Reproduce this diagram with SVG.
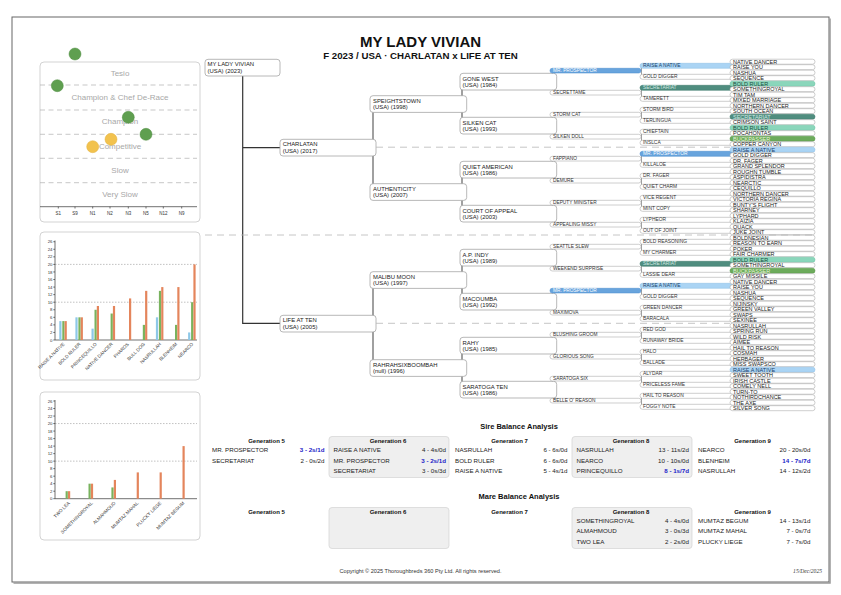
<svg xmlns="http://www.w3.org/2000/svg" width="841" height="595" viewBox="0 0 841 595">
<style>
text{font-family:"Liberation Sans",Arial,Helvetica,sans-serif}
.frame{fill:#fff;stroke:#666;stroke-width:1}
.panel{fill:#fff;stroke:#c8c8c8;stroke-width:.8}
.band{stroke:#b0b0b0;stroke-width:.7;stroke-dasharray:5 3.5}
.bandt{font-size:8px;fill:#a8a8a8;text-anchor:middle}
.axis{stroke:#333;stroke-width:.7;fill:none}
.tick{font-size:4.3px;fill:#333;text-anchor:end}
.xt{font-size:4.5px;fill:#333;text-anchor:middle}
.grid{stroke:#999;stroke-width:.6;stroke-dasharray:1.5 1.5}
.cg{fill:#5f9f50;stroke:#4e8c40;stroke-width:.5}
.cy{fill:#f2c24e;stroke:#e3b03c;stroke-width:.5}
.bb{fill:#8ec8e8}.bg{fill:#79b35e}.bo{fill:#e4855c}
.xl{font-size:4.6px;fill:#333;text-anchor:end}
.box{fill:#fff;stroke:#a6a6a6;stroke-width:.8}
.nm{font-size:5.9px;fill:#222}
.tab{fill:#fff;stroke:#a6a6a6;stroke-width:.55}
.t4{font-size:4.8px;fill:#333}
.t5{font-size:4.9px;fill:#333}
.t6{font-size:5.5px;fill:#222}
.B{fill:#68a4dd;stroke:#4f8fcf;stroke-width:.55}
.L{fill:#aad4f4;stroke:#8fc1e7;stroke-width:.55}
.T{fill:#4f8d7f;stroke:#3f7b6d;stroke-width:.55}
.M{fill:#8ad6bb;stroke:#6ec4a5;stroke-width:.55}
.G{fill:#6cab5b;stroke:#5a994a;stroke-width:.55}
.tw{fill:#fff}.tn{fill:#1b3f6a}.tt{fill:#cfe9e2}.tm{fill:#1d4a3d}.tg{fill:#e4f5d8}
.con{stroke:#a0a0a0;stroke-width:2;fill:none}
.con1{stroke:#a0a0a0;stroke-width:1;fill:none}
.main{stroke:#333;stroke-width:1.2;fill:none}
.sep{stroke:#b8b8b8;stroke-width:.8;stroke-dasharray:7 5;fill:none}
.h1{font-size:15px;font-weight:bold;fill:#111;text-anchor:middle}
.h2{font-size:9.7px;font-weight:bold;fill:#111;text-anchor:middle}
.st{font-size:7.5px;font-weight:bold;fill:#111;text-anchor:middle}
.gh{font-size:6px;font-weight:bold;fill:#111;text-anchor:middle}
.gbox{fill:#efefef;stroke:#d2d2d2;stroke-width:.7}
.rn{font-size:6.2px;fill:#222}
.rv{font-size:6.2px;fill:#222;text-anchor:end}
.rb{font-size:6.2px;fill:#1a1ac8;font-weight:bold;text-anchor:end}
.foot{font-size:5.6px;fill:#333;text-anchor:middle}
.date{font-family:"Liberation Serif","Times New Roman",serif;font-style:italic;font-size:5.6px;fill:#333;text-anchor:end}
</style>

<rect x="12" y="17" width="817" height="565" class="frame"/>
<path d="M830 18.5 V583 H13.5" stroke="#999" stroke-width="1.5" fill="none"/>

<text x="420.5" y="47" class="h1">MY LADY VIVIAN</text>
<text x="420.5" y="58.5" class="h2">F 2023 / USA · CHARLATAN x LIFE AT TEN</text>

<!-- Panel 1: rating chart -->
<g id="rating-chart">
<rect x="40" y="62" width="160" height="160" rx="4" class="panel"/>
<line x1="40" y1="85" x2="197" y2="85" class="band"/>
<line x1="40" y1="110" x2="197" y2="110" class="band"/>
<line x1="40" y1="134.3" x2="197" y2="134.3" class="band"/>
<line x1="40" y1="158.3" x2="197" y2="158.3" class="band"/>
<line x1="40" y1="182.7" x2="197" y2="182.7" class="band"/>
<text x="120" y="75.5" class="bandt">Tesio</text>
<text x="120" y="100" class="bandt">Champion &amp; Chef De-Race</text>
<text x="120" y="124" class="bandt">Champion</text>
<text x="120" y="149" class="bandt">Competitive</text>
<text x="120" y="173" class="bandt">Slow</text>
<text x="120" y="197" class="bandt">Very Slow</text>
<line x1="40" y1="206.7" x2="197" y2="206.7" class="axis"/>
<path d="M58.3 206.7v1.8M75 206.7v1.8M92.7 206.7v1.8M110 206.7v1.8M128.3 206.7v1.8M146 206.7v1.8M163.3 206.7v1.8M181.7 206.7v1.8" class="axis"/>
<text x="58.3" y="214.8" class="xt">S1</text>
<text x="75" y="214.8" class="xt">S9</text>
<text x="92.7" y="214.8" class="xt">N1</text>
<text x="110" y="214.8" class="xt">N2</text>
<text x="128.3" y="214.8" class="xt">N3</text>
<text x="146" y="214.8" class="xt">N5</text>
<text x="163.3" y="214.8" class="xt">N12</text>
<text x="181.7" y="214.8" class="xt">N9</text>
<circle cx="75" cy="54" r="6" class="cg"/>
<circle cx="57.3" cy="85.7" r="6" class="cg"/>
<circle cx="128.3" cy="117.3" r="6" class="cg"/>
<circle cx="146" cy="134.3" r="6" class="cg"/>
<circle cx="111" cy="139.3" r="6" class="cy"/>
<circle cx="92.7" cy="146.7" r="6" class="cy"/>
</g>

<!-- Panel 2: sire bar chart -->
<g id="sire-chart">
<rect x="40" y="232" width="160" height="148" rx="4" class="panel"/>
<line x1="55" y1="264.4" x2="197" y2="264.4" class="grid"/>
<line x1="55" y1="302.2" x2="197" y2="302.2" class="grid"/>
<path d="M55 240.5V340H197" class="axis"/>
<path d="M53.3 340h1.7M53.3 332.44h1.7M53.3 324.88h1.7M53.3 317.32h1.7M53.3 309.76h1.7M53.3 302.2h1.7M53.3 294.64h1.7M53.3 287.08h1.7M53.3 279.52h1.7M53.3 271.96h1.7M53.3 264.4h1.7M53.3 256.84h1.7M53.3 249.28h1.7M53.3 241.72h1.7" class="axis"/>
<text x="52.5" y="341.5" class="tick">0</text>
<text x="52.5" y="333.9" class="tick">2</text>
<text x="52.5" y="326.4" class="tick">4</text>
<text x="52.5" y="318.8" class="tick">6</text>
<text x="52.5" y="311.3" class="tick">8</text>
<text x="52.5" y="303.7" class="tick">10</text>
<text x="52.5" y="296.1" class="tick">12</text>
<text x="52.5" y="288.6" class="tick">14</text>
<text x="52.5" y="281" class="tick">16</text>
<text x="52.5" y="273.5" class="tick">18</text>
<text x="52.5" y="265.9" class="tick">20</text>
<text x="52.5" y="258.3" class="tick">22</text>
<text x="52.5" y="250.8" class="tick">24</text>
<text x="52.5" y="243.2" class="tick">26</text>
<rect x="59.3" y="321.1" width="2.2" height="18.9" class="bb"/><rect x="62.3" y="321.1" width="2.2" height="18.9" class="bg"/><rect x="64.6" y="321.1" width="2.2" height="18.9" class="bo"/>
<rect x="75.4" y="317.32" width="2.2" height="22.68" class="bb"/><rect x="78.4" y="317.32" width="2.2" height="22.68" class="bg"/><rect x="80.7" y="317.32" width="2.2" height="22.68" class="bo"/>
<rect x="91.5" y="328.66" width="2.2" height="11.34" class="bb"/><rect x="94.5" y="309.76" width="2.2" height="30.24" class="bg"/><rect x="96.8" y="305.98" width="2.2" height="34.02" class="bo"/>
<rect x="110.6" y="313.54" width="2.2" height="26.46" class="bg"/><rect x="112.9" y="305.98" width="2.2" height="34.02" class="bo"/>
<rect x="129" y="298.42" width="2.2" height="41.58" class="bo"/>
<rect x="142.8" y="324.88" width="2.2" height="15.12" class="bg"/><rect x="145.1" y="290.86" width="2.2" height="49.14" class="bo"/>
<rect x="155.9" y="317.32" width="2.2" height="22.68" class="bb"/><rect x="158.9" y="290.86" width="2.2" height="49.14" class="bg"/><rect x="161.2" y="287.08" width="2.2" height="52.92" class="bo"/>
<rect x="175" y="324.88" width="2.2" height="15.12" class="bg"/><rect x="177.3" y="287.08" width="2.2" height="52.92" class="bo"/>
<rect x="188.1" y="332.44" width="2.2" height="7.56" class="bb"/><rect x="191.1" y="302.2" width="2.2" height="37.8" class="bg"/><rect x="193.4" y="264.4" width="2.2" height="75.6" class="bo"/>
<text class="xl" transform="translate(64.8 344.5) rotate(-45)">RAISE A NATIVE</text>
<text class="xl" transform="translate(80.9 344.5) rotate(-45)">BOLD RULER</text>
<text class="xl" transform="translate(97 344.5) rotate(-45)">PRINCEQUILLO</text>
<text class="xl" transform="translate(113.1 344.5) rotate(-45)">NATIVE DANCER</text>
<text class="xl" transform="translate(129.2 344.5) rotate(-45)">PHAROS</text>
<text class="xl" transform="translate(145.3 344.5) rotate(-45)">BULL DOG</text>
<text class="xl" transform="translate(161.4 344.5) rotate(-45)">NASRULLAH</text>
<text class="xl" transform="translate(177.5 344.5) rotate(-45)">BLENHEIM</text>
<text class="xl" transform="translate(193.6 344.5) rotate(-45)">NEARCO</text>
</g>

<!-- Panel 3: mare bar chart -->
<g id="mare-chart">
<rect x="40" y="392" width="160" height="148" rx="4" class="panel"/>
<line x1="55" y1="423.56" x2="197" y2="423.56" class="grid"/>
<line x1="55" y1="461.13" x2="197" y2="461.13" class="grid"/>
<path d="M55 400V498.7H197" class="axis"/>
<path d="M53.3 498.7h1.7M53.3 491.19h1.7M53.3 483.67h1.7M53.3 476.16h1.7M53.3 468.64h1.7M53.3 461.13h1.7M53.3 453.62h1.7M53.3 446.1h1.7M53.3 438.59h1.7M53.3 431.07h1.7M53.3 423.56h1.7M53.3 416.05h1.7M53.3 408.53h1.7M53.3 401.02h1.7" class="axis"/>
<text x="52.5" y="500.2" class="tick">0</text>
<text x="52.5" y="492.7" class="tick">2</text>
<text x="52.5" y="485.2" class="tick">4</text>
<text x="52.5" y="477.7" class="tick">6</text>
<text x="52.5" y="470.1" class="tick">8</text>
<text x="52.5" y="462.6" class="tick">10</text>
<text x="52.5" y="455.1" class="tick">12</text>
<text x="52.5" y="447.6" class="tick">14</text>
<text x="52.5" y="440.1" class="tick">16</text>
<text x="52.5" y="432.6" class="tick">18</text>
<text x="52.5" y="425.1" class="tick">20</text>
<text x="52.5" y="417.5" class="tick">22</text>
<text x="52.5" y="410" class="tick">24</text>
<text x="52.5" y="402.5" class="tick">26</text>
<rect x="65.6" y="491.19" width="2.2" height="7.51" class="bg"/><rect x="68" y="491.19" width="2.2" height="7.51" class="bo"/>
<rect x="88.5" y="483.67" width="2.2" height="15.03" class="bg"/><rect x="90.9" y="483.67" width="2.2" height="15.03" class="bo"/>
<rect x="111.4" y="487.43" width="2.2" height="11.27" class="bg"/><rect x="113.8" y="479.91" width="2.2" height="18.79" class="bo"/>
<rect x="136.7" y="472.4" width="2.2" height="26.3" class="bo"/>
<rect x="159.6" y="472.4" width="2.2" height="26.3" class="bo"/>
<rect x="182.5" y="446.1" width="2.2" height="52.6" class="bo"/>
<text class="xl" transform="translate(70.1 503.5) rotate(-45)">TWO LEA</text>
<text class="xl" transform="translate(93 503.5) rotate(-45)">SOMETHINGROYAL</text>
<text class="xl" transform="translate(115.9 503.5) rotate(-45)">ALMAHMOUD</text>
<text class="xl" transform="translate(138.8 503.5) rotate(-45)">MUMTAZ MAHAL</text>
<text class="xl" transform="translate(161.7 503.5) rotate(-45)">PLUCKY LIEGE</text>
<text class="xl" transform="translate(184.6 503.5) rotate(-45)">MUMTAZ BEGUM</text>
</g>

<!-- connectors -->
<g id="connectors">
<path d="M242.7 76V323.3H280M242.7 147.7H280" class="main"/>
<path d="M373 104.05V192.05M373 280.05V368.05" class="con"/>
<path d="M462 81.65V125.65M462 169.65V213.65M462 257.65V301.65M462 345.65V389.65" class="con"/>
<path d="M552.5 70.65V92.65M552.5 114.65V136.65M552.5 158.65V180.65M552.5 202.65V224.65M552.5 246.65V268.65M552.5 290.65V312.65M552.5 334.65V356.65M552.5 378.65V400.65" class="con1"/>
<path d="M641.5 65.8V76.8M641.5 87.8V98.8M641.5 109.8V120.8M641.5 131.8V142.8M641.5 153.8V164.8M641.5 175.8V186.8M641.5 197.8V208.8M641.5 219.8V230.8M641.5 241.8V252.8M641.5 263.8V274.8M641.5 285.8V296.8M641.5 307.8V318.8M641.5 329.8V340.8M641.5 351.8V362.8M641.5 373.8V384.8M641.5 395.8V406.8" class="con1"/>
</g>

<!-- generation 0-3 -->
<g id="n-my-lady-vivian" transform="translate(205 59.3)"><rect width="75" height="16.7" rx="3" class="box"/><text class="nm" x="2.5" y="7.1">MY LADY VIVIAN</text><text class="nm" x="2.5" y="13.5">(USA) (2023)</text></g>
<g id="n-charlatan" transform="translate(280 139.3)"><rect width="96" height="16.7" rx="3" class="box"/><text class="nm" x="2.7" y="7.1">CHARLATAN</text><text class="nm" x="2.7" y="13.5">(USA) (2017)</text></g>
<g id="n-life-at-ten" transform="translate(280 315.3)"><rect width="96" height="16.7" rx="3" class="box"/><text class="nm" x="2.7" y="7.1">LIFE AT TEN</text><text class="nm" x="2.7" y="13.5">(USA) (2005)</text></g>
<g id="n-speightstown" transform="translate(370 95.7)"><rect width="96.7" height="16.7" rx="3" class="box"/><text class="nm" x="3" y="7.1">SPEIGHTSTOWN</text><text class="nm" x="3" y="13.5">(USA) (1998)</text></g>
<g id="n-authenticity" transform="translate(370 183.7)"><rect width="96.7" height="16.7" rx="3" class="box"/><text class="nm" x="3" y="7.1">AUTHENTICITY</text><text class="nm" x="3" y="13.5">(USA) (2007)</text></g>
<g id="n-malibu-moon" transform="translate(370 271.7)"><rect width="96.7" height="16.7" rx="3" class="box"/><text class="nm" x="3" y="7.1">MALIBU MOON</text><text class="nm" x="3" y="13.5">(USA) (1997)</text></g>
<g id="n-rahrahsixboombah" transform="translate(370 359.7)"><rect width="96.7" height="16.7" rx="3" class="box"/><text class="nm" x="3" y="7.1">RAHRAHSIXBOOMBAH</text><text class="nm" x="3" y="13.5">(null) (1996)</text></g>
<g id="n-gone-west" transform="translate(460 73.3)"><rect width="96.7" height="16.7" rx="3" class="box"/><text class="nm" x="2.5" y="7.3">GONE WEST</text><text class="nm" x="2.5" y="13.7">(USA) (1984)</text></g>
<g id="n-silken-cat" transform="translate(460 117.3)"><rect width="96.7" height="16.7" rx="3" class="box"/><text class="nm" x="2.5" y="7.3">SILKEN CAT</text><text class="nm" x="2.5" y="13.7">(USA) (1993)</text></g>
<g id="n-quiet-american" transform="translate(460 161.3)"><rect width="96.7" height="16.7" rx="3" class="box"/><text class="nm" x="2.5" y="7.3">QUIET AMERICAN</text><text class="nm" x="2.5" y="13.7">(USA) (1986)</text></g>
<g id="n-court-of-appeal" transform="translate(460 205.3)"><rect width="96.7" height="16.7" rx="3" class="box"/><text class="nm" x="2.5" y="7.3">COURT OF APPEAL</text><text class="nm" x="2.5" y="13.7">(USA) (2003)</text></g>
<g id="n-ap-indy" transform="translate(460 249.3)"><rect width="96.7" height="16.7" rx="3" class="box"/><text class="nm" x="2.5" y="7.3">A.P. INDY</text><text class="nm" x="2.5" y="13.7">(USA) (1989)</text></g>
<g id="n-macoumba" transform="translate(460 293.3)"><rect width="96.7" height="16.7" rx="3" class="box"/><text class="nm" x="2.5" y="7.3">MACOUMBA</text><text class="nm" x="2.5" y="13.7">(USA) (1992)</text></g>
<g id="n-rahy" transform="translate(460 337.3)"><rect width="96.7" height="16.7" rx="3" class="box"/><text class="nm" x="2.5" y="7.3">RAHY</text><text class="nm" x="2.5" y="13.7">(USA) (1985)</text></g>
<g id="n-saratoga-ten" transform="translate(460 381.3)"><rect width="96.7" height="16.7" rx="3" class="box"/><text class="nm" x="2.5" y="7.3">SARATOGA TEN</text><text class="nm" x="2.5" y="13.7">(USA) (1986)</text></g>

<!-- generation 4 -->
<g id="g4-0" transform="translate(550 68.3)"><rect width="91" height="4.7" rx="2.3" class="B"/><text class="t4 tw" x="3" y="4">MR. PROSPECTOR</text></g>
<g id="g4-1" transform="translate(550 90.3)"><rect width="91" height="4.7" rx="2.3" class="tab"/><text class="t4" x="3" y="4">SECRETTAME</text></g>
<g id="g4-2" transform="translate(550 112.3)"><rect width="91" height="4.7" rx="2.3" class="tab"/><text class="t4" x="3" y="4">STORM CAT</text></g>
<g id="g4-3" transform="translate(550 134.3)"><rect width="91" height="4.7" rx="2.3" class="tab"/><text class="t4" x="3" y="4">SILKEN DOLL</text></g>
<g id="g4-4" transform="translate(550 156.3)"><rect width="91" height="4.7" rx="2.3" class="tab"/><text class="t4" x="3" y="4">FAPPIANO</text></g>
<g id="g4-5" transform="translate(550 178.3)"><rect width="91" height="4.7" rx="2.3" class="tab"/><text class="t4" x="3" y="4">DEMURE</text></g>
<g id="g4-6" transform="translate(550 200.3)"><rect width="91" height="4.7" rx="2.3" class="tab"/><text class="t4" x="3" y="4">DEPUTY MINISTER</text></g>
<g id="g4-7" transform="translate(550 222.3)"><rect width="91" height="4.7" rx="2.3" class="tab"/><text class="t4" x="3" y="4">APPEALING MISSY</text></g>
<g id="g4-8" transform="translate(550 244.3)"><rect width="91" height="4.7" rx="2.3" class="tab"/><text class="t4" x="3" y="4">SEATTLE SLEW</text></g>
<g id="g4-9" transform="translate(550 266.3)"><rect width="91" height="4.7" rx="2.3" class="tab"/><text class="t4" x="3" y="4">WEEKEND SURPRISE</text></g>
<g id="g4-10" transform="translate(550 288.3)"><rect width="91" height="4.7" rx="2.3" class="B"/><text class="t4 tw" x="3" y="4">MR. PROSPECTOR</text></g>
<g id="g4-11" transform="translate(550 310.3)"><rect width="91" height="4.7" rx="2.3" class="tab"/><text class="t4" x="3" y="4">MAXIMOVA</text></g>
<g id="g4-12" transform="translate(550 332.3)"><rect width="91" height="4.7" rx="2.3" class="tab"/><text class="t4" x="3" y="4">BLUSHING GROOM</text></g>
<g id="g4-13" transform="translate(550 354.3)"><rect width="91" height="4.7" rx="2.3" class="tab"/><text class="t4" x="3" y="4">GLORIOUS SONG</text></g>
<g id="g4-14" transform="translate(550 376.3)"><rect width="91" height="4.7" rx="2.3" class="tab"/><text class="t4" x="3" y="4">SARATOGA SIX</text></g>
<g id="g4-15" transform="translate(550 398.3)"><rect width="91" height="4.7" rx="2.3" class="tab"/><text class="t4" x="3" y="4">BELLE O' REASON</text></g>

<!-- generation 5 -->
<g id="g5-0" transform="translate(640 63.3)"><rect width="95" height="5" rx="2.5" class="L"/><text class="t5 tn" x="3" y="4.2">RAISE A NATIVE</text></g>
<g id="g5-1" transform="translate(640 74.3)"><rect width="95" height="5" rx="2.5" class="tab"/><text class="t5" x="3" y="4.2">GOLD DIGGER</text></g>
<g id="g5-2" transform="translate(640 85.3)"><rect width="95" height="5" rx="2.5" class="T"/><text class="t5 tt" x="3" y="4.2">SECRETARIAT</text></g>
<g id="g5-3" transform="translate(640 96.3)"><rect width="95" height="5" rx="2.5" class="tab"/><text class="t5" x="3" y="4.2">TAMERETT</text></g>
<g id="g5-4" transform="translate(640 107.3)"><rect width="95" height="5" rx="2.5" class="tab"/><text class="t5" x="3" y="4.2">STORM BIRD</text></g>
<g id="g5-5" transform="translate(640 118.3)"><rect width="95" height="5" rx="2.5" class="tab"/><text class="t5" x="3" y="4.2">TERLINGUA</text></g>
<g id="g5-6" transform="translate(640 129.3)"><rect width="95" height="5" rx="2.5" class="tab"/><text class="t5" x="3" y="4.2">CHIEFTAIN</text></g>
<g id="g5-7" transform="translate(640 140.3)"><rect width="95" height="5" rx="2.5" class="tab"/><text class="t5" x="3" y="4.2">INSLCA</text></g>
<g id="g5-8" transform="translate(640 151.3)"><rect width="95" height="5" rx="2.5" class="B"/><text class="t5 tw" x="3" y="4.2">MR. PROSPECTOR</text></g>
<g id="g5-9" transform="translate(640 162.3)"><rect width="95" height="5" rx="2.5" class="tab"/><text class="t5" x="3" y="4.2">KILLALOE</text></g>
<g id="g5-10" transform="translate(640 173.3)"><rect width="95" height="5" rx="2.5" class="tab"/><text class="t5" x="3" y="4.2">DR. FAGER</text></g>
<g id="g5-11" transform="translate(640 184.3)"><rect width="95" height="5" rx="2.5" class="tab"/><text class="t5" x="3" y="4.2">QUIET CHARM</text></g>
<g id="g5-12" transform="translate(640 195.3)"><rect width="95" height="5" rx="2.5" class="tab"/><text class="t5" x="3" y="4.2">VICE REGENT</text></g>
<g id="g5-13" transform="translate(640 206.3)"><rect width="95" height="5" rx="2.5" class="tab"/><text class="t5" x="3" y="4.2">MINT COPY</text></g>
<g id="g5-14" transform="translate(640 217.3)"><rect width="95" height="5" rx="2.5" class="tab"/><text class="t5" x="3" y="4.2">LYPHEOR</text></g>
<g id="g5-15" transform="translate(640 228.3)"><rect width="95" height="5" rx="2.5" class="tab"/><text class="t5" x="3" y="4.2">OUT OF JOINT</text></g>
<g id="g5-16" transform="translate(640 239.3)"><rect width="95" height="5" rx="2.5" class="tab"/><text class="t5" x="3" y="4.2">BOLD REASONING</text></g>
<g id="g5-17" transform="translate(640 250.3)"><rect width="95" height="5" rx="2.5" class="tab"/><text class="t5" x="3" y="4.2">MY CHARMER</text></g>
<g id="g5-18" transform="translate(640 261.3)"><rect width="95" height="5" rx="2.5" class="T"/><text class="t5 tt" x="3" y="4.2">SECRETARIAT</text></g>
<g id="g5-19" transform="translate(640 272.3)"><rect width="95" height="5" rx="2.5" class="tab"/><text class="t5" x="3" y="4.2">LASSIE DEAR</text></g>
<g id="g5-20" transform="translate(640 283.3)"><rect width="95" height="5" rx="2.5" class="L"/><text class="t5 tn" x="3" y="4.2">RAISE A NATIVE</text></g>
<g id="g5-21" transform="translate(640 294.3)"><rect width="95" height="5" rx="2.5" class="tab"/><text class="t5" x="3" y="4.2">GOLD DIGGER</text></g>
<g id="g5-22" transform="translate(640 305.3)"><rect width="95" height="5" rx="2.5" class="tab"/><text class="t5" x="3" y="4.2">GREEN DANCER</text></g>
<g id="g5-23" transform="translate(640 316.3)"><rect width="95" height="5" rx="2.5" class="tab"/><text class="t5" x="3" y="4.2">BARACALA</text></g>
<g id="g5-24" transform="translate(640 327.3)"><rect width="95" height="5" rx="2.5" class="tab"/><text class="t5" x="3" y="4.2">RED GOD</text></g>
<g id="g5-25" transform="translate(640 338.3)"><rect width="95" height="5" rx="2.5" class="tab"/><text class="t5" x="3" y="4.2">RUNAWAY BRIDE</text></g>
<g id="g5-26" transform="translate(640 349.3)"><rect width="95" height="5" rx="2.5" class="tab"/><text class="t5" x="3" y="4.2">HALO</text></g>
<g id="g5-27" transform="translate(640 360.3)"><rect width="95" height="5" rx="2.5" class="tab"/><text class="t5" x="3" y="4.2">BALLADE</text></g>
<g id="g5-28" transform="translate(640 371.3)"><rect width="95" height="5" rx="2.5" class="tab"/><text class="t5" x="3" y="4.2">ALYDAR</text></g>
<g id="g5-29" transform="translate(640 382.3)"><rect width="95" height="5" rx="2.5" class="tab"/><text class="t5" x="3" y="4.2">PRICELESS FAME</text></g>
<g id="g5-30" transform="translate(640 393.3)"><rect width="95" height="5" rx="2.5" class="tab"/><text class="t5" x="3" y="4.2">HAIL TO REASON</text></g>
<g id="g5-31" transform="translate(640 404.3)"><rect width="95" height="5" rx="2.5" class="tab"/><text class="t5" x="3" y="4.2">FOGGY NOTE</text></g>

<!-- generation 6 -->
<g id="g6-0" transform="translate(730 59.2)"><rect width="85" height="5" rx="2.5" class="tab"/><text class="t6" x="3" y="4.3">NATIVE DANCER</text></g>
<g id="g6-1" transform="translate(730 64.7)"><rect width="85" height="5" rx="2.5" class="tab"/><text class="t6" x="3" y="4.3">RAISE YOU</text></g>
<g id="g6-2" transform="translate(730 70.2)"><rect width="85" height="5" rx="2.5" class="tab"/><text class="t6" x="3" y="4.3">NASHUA</text></g>
<g id="g6-3" transform="translate(730 75.7)"><rect width="85" height="5" rx="2.5" class="tab"/><text class="t6" x="3" y="4.3">SEQUENCE</text></g>
<g id="g6-4" transform="translate(730 81.2)"><rect width="85" height="5" rx="2.5" class="M"/><text class="t6 tm" x="3" y="4.3">BOLD RULER</text></g>
<g id="g6-5" transform="translate(730 86.7)"><rect width="85" height="5" rx="2.5" class="tab"/><text class="t6" x="3" y="4.3">SOMETHINGROYAL</text></g>
<g id="g6-6" transform="translate(730 92.2)"><rect width="85" height="5" rx="2.5" class="tab"/><text class="t6" x="3" y="4.3">TIM TAM</text></g>
<g id="g6-7" transform="translate(730 97.7)"><rect width="85" height="5" rx="2.5" class="tab"/><text class="t6" x="3" y="4.3">MIXED MARRIAGE</text></g>
<g id="g6-8" transform="translate(730 103.2)"><rect width="85" height="5" rx="2.5" class="tab"/><text class="t6" x="3" y="4.3">NORTHERN DANCER</text></g>
<g id="g6-9" transform="translate(730 108.7)"><rect width="85" height="5" rx="2.5" class="tab"/><text class="t6" x="3" y="4.3">SOUTH OCEAN</text></g>
<g id="g6-10" transform="translate(730 114.2)"><rect width="85" height="5" rx="2.5" class="T"/><text class="t6 tt" x="3" y="4.3">SECRETARIAT</text></g>
<g id="g6-11" transform="translate(730 119.7)"><rect width="85" height="5" rx="2.5" class="tab"/><text class="t6" x="3" y="4.3">CRIMSON SAINT</text></g>
<g id="g6-12" transform="translate(730 125.2)"><rect width="85" height="5" rx="2.5" class="M"/><text class="t6 tm" x="3" y="4.3">BOLD RULER</text></g>
<g id="g6-13" transform="translate(730 130.7)"><rect width="85" height="5" rx="2.5" class="tab"/><text class="t6" x="3" y="4.3">POCAHONTAS</text></g>
<g id="g6-14" transform="translate(730 136.2)"><rect width="85" height="5" rx="2.5" class="G"/><text class="t6 tg" x="3" y="4.3">BUCKPASSER</text></g>
<g id="g6-15" transform="translate(730 141.7)"><rect width="85" height="5" rx="2.5" class="tab"/><text class="t6" x="3" y="4.3">COPPER CANYON</text></g>
<g id="g6-16" transform="translate(730 147.2)"><rect width="85" height="5" rx="2.5" class="L"/><text class="t6 tn" x="3" y="4.3">RAISE A NATIVE</text></g>
<g id="g6-17" transform="translate(730 152.7)"><rect width="85" height="5" rx="2.5" class="tab"/><text class="t6" x="3" y="4.3">GOLD DIGGER</text></g>
<g id="g6-18" transform="translate(730 158.2)"><rect width="85" height="5" rx="2.5" class="tab"/><text class="t6" x="3" y="4.3">DR. FAGER</text></g>
<g id="g6-19" transform="translate(730 163.7)"><rect width="85" height="5" rx="2.5" class="tab"/><text class="t6" x="3" y="4.3">GRAND SPLENDOR</text></g>
<g id="g6-20" transform="translate(730 169.2)"><rect width="85" height="5" rx="2.5" class="tab"/><text class="t6" x="3" y="4.3">ROUGHN TUMBLE</text></g>
<g id="g6-21" transform="translate(730 174.7)"><rect width="85" height="5" rx="2.5" class="tab"/><text class="t6" x="3" y="4.3">ASPIDISTRA</text></g>
<g id="g6-22" transform="translate(730 180.2)"><rect width="85" height="5" rx="2.5" class="tab"/><text class="t6" x="3" y="4.3">NEARCTIC</text></g>
<g id="g6-23" transform="translate(730 185.7)"><rect width="85" height="5" rx="2.5" class="tab"/><text class="t6" x="3" y="4.3">CEQUILLO</text></g>
<g id="g6-24" transform="translate(730 191.2)"><rect width="85" height="5" rx="2.5" class="tab"/><text class="t6" x="3" y="4.3">NORTHERN DANCER</text></g>
<g id="g6-25" transform="translate(730 196.7)"><rect width="85" height="5" rx="2.5" class="tab"/><text class="t6" x="3" y="4.3">VICTORIA REGINA</text></g>
<g id="g6-26" transform="translate(730 202.2)"><rect width="85" height="5" rx="2.5" class="tab"/><text class="t6" x="3" y="4.3">BUNTY'S FLIGHT</text></g>
<g id="g6-27" transform="translate(730 207.7)"><rect width="85" height="5" rx="2.5" class="tab"/><text class="t6" x="3" y="4.3">SHARNEY</text></g>
<g id="g6-28" transform="translate(730 213.2)"><rect width="85" height="5" rx="2.5" class="tab"/><text class="t6" x="3" y="4.3">LYPHARD</text></g>
<g id="g6-29" transform="translate(730 218.7)"><rect width="85" height="5" rx="2.5" class="tab"/><text class="t6" x="3" y="4.3">KLAIZIA</text></g>
<g id="g6-30" transform="translate(730 224.2)"><rect width="85" height="5" rx="2.5" class="tab"/><text class="t6" x="3" y="4.3">QUACK</text></g>
<g id="g6-31" transform="translate(730 229.7)"><rect width="85" height="5" rx="2.5" class="tab"/><text class="t6" x="3" y="4.3">JUKE JOINT</text></g>
<g id="g6-32" transform="translate(730 235.2)"><rect width="85" height="5" rx="2.5" class="tab"/><text class="t6" x="3" y="4.3">BOLDNESIAN</text></g>
<g id="g6-33" transform="translate(730 240.7)"><rect width="85" height="5" rx="2.5" class="tab"/><text class="t6" x="3" y="4.3">REASON TO EARN</text></g>
<g id="g6-34" transform="translate(730 246.2)"><rect width="85" height="5" rx="2.5" class="tab"/><text class="t6" x="3" y="4.3">POKER</text></g>
<g id="g6-35" transform="translate(730 251.7)"><rect width="85" height="5" rx="2.5" class="tab"/><text class="t6" x="3" y="4.3">FAIR CHARMER</text></g>
<g id="g6-36" transform="translate(730 257.2)"><rect width="85" height="5" rx="2.5" class="M"/><text class="t6 tm" x="3" y="4.3">BOLD RULER</text></g>
<g id="g6-37" transform="translate(730 262.7)"><rect width="85" height="5" rx="2.5" class="tab"/><text class="t6" x="3" y="4.3">SOMETHINGROYAL</text></g>
<g id="g6-38" transform="translate(730 268.2)"><rect width="85" height="5" rx="2.5" class="G"/><text class="t6 tg" x="3" y="4.3">BUCKPASSER</text></g>
<g id="g6-39" transform="translate(730 273.7)"><rect width="85" height="5" rx="2.5" class="tab"/><text class="t6" x="3" y="4.3">GAY MISSILE</text></g>
<g id="g6-40" transform="translate(730 279.2)"><rect width="85" height="5" rx="2.5" class="tab"/><text class="t6" x="3" y="4.3">NATIVE DANCER</text></g>
<g id="g6-41" transform="translate(730 284.7)"><rect width="85" height="5" rx="2.5" class="tab"/><text class="t6" x="3" y="4.3">RAISE YOU</text></g>
<g id="g6-42" transform="translate(730 290.2)"><rect width="85" height="5" rx="2.5" class="tab"/><text class="t6" x="3" y="4.3">NASHUA</text></g>
<g id="g6-43" transform="translate(730 295.7)"><rect width="85" height="5" rx="2.5" class="tab"/><text class="t6" x="3" y="4.3">SEQUENCE</text></g>
<g id="g6-44" transform="translate(730 301.2)"><rect width="85" height="5" rx="2.5" class="tab"/><text class="t6" x="3" y="4.3">NIJINSKY</text></g>
<g id="g6-45" transform="translate(730 306.7)"><rect width="85" height="5" rx="2.5" class="tab"/><text class="t6" x="3" y="4.3">GREEN VALLEY</text></g>
<g id="g6-46" transform="translate(730 312.2)"><rect width="85" height="5" rx="2.5" class="tab"/><text class="t6" x="3" y="4.3">SWAPS</text></g>
<g id="g6-47" transform="translate(730 317.7)"><rect width="85" height="5" rx="2.5" class="tab"/><text class="t6" x="3" y="4.3">SEXINEE</text></g>
<g id="g6-48" transform="translate(730 323.2)"><rect width="85" height="5" rx="2.5" class="tab"/><text class="t6" x="3" y="4.3">NASRULLAH</text></g>
<g id="g6-49" transform="translate(730 328.7)"><rect width="85" height="5" rx="2.5" class="tab"/><text class="t6" x="3" y="4.3">SPRING RUN</text></g>
<g id="g6-50" transform="translate(730 334.2)"><rect width="85" height="5" rx="2.5" class="tab"/><text class="t6" x="3" y="4.3">WILD RISK</text></g>
<g id="g6-51" transform="translate(730 339.7)"><rect width="85" height="5" rx="2.5" class="tab"/><text class="t6" x="3" y="4.3">AIMEE</text></g>
<g id="g6-52" transform="translate(730 345.2)"><rect width="85" height="5" rx="2.5" class="tab"/><text class="t6" x="3" y="4.3">HAIL TO REASON</text></g>
<g id="g6-53" transform="translate(730 350.7)"><rect width="85" height="5" rx="2.5" class="tab"/><text class="t6" x="3" y="4.3">COSMAH</text></g>
<g id="g6-54" transform="translate(730 356.2)"><rect width="85" height="5" rx="2.5" class="tab"/><text class="t6" x="3" y="4.3">HERBAGER</text></g>
<g id="g6-55" transform="translate(730 361.7)"><rect width="85" height="5" rx="2.5" class="tab"/><text class="t6" x="3" y="4.3">MISS SWAPSCO</text></g>
<g id="g6-56" transform="translate(730 367.2)"><rect width="85" height="5" rx="2.5" class="L"/><text class="t6 tn" x="3" y="4.3">RAISE A NATIVE</text></g>
<g id="g6-57" transform="translate(730 372.7)"><rect width="85" height="5" rx="2.5" class="tab"/><text class="t6" x="3" y="4.3">SWEET TOOTH</text></g>
<g id="g6-58" transform="translate(730 378.2)"><rect width="85" height="5" rx="2.5" class="tab"/><text class="t6" x="3" y="4.3">IRISH CASTLE</text></g>
<g id="g6-59" transform="translate(730 383.7)"><rect width="85" height="5" rx="2.5" class="tab"/><text class="t6" x="3" y="4.3">COMELY NELL</text></g>
<g id="g6-60" transform="translate(730 389.2)"><rect width="85" height="5" rx="2.5" class="tab"/><text class="t6" x="3" y="4.3">TURN-TO</text></g>
<g id="g6-61" transform="translate(730 394.7)"><rect width="85" height="5" rx="2.5" class="tab"/><text class="t6" x="3" y="4.3">NOTHIRDCHANCE</text></g>
<g id="g6-62" transform="translate(730 400.2)"><rect width="85" height="5" rx="2.5" class="tab"/><text class="t6" x="3" y="4.3">THE AXE</text></g>
<g id="g6-63" transform="translate(730 405.7)"><rect width="85" height="5" rx="2.5" class="tab"/><text class="t6" x="3" y="4.3">SILVER SONG</text></g>

<!-- separators -->
<g id="separators">
<path d="M205 235H815" class="sep"/>
<path d="M376 147.2H730M376 323.3H730" class="sep"/>
</g>

<!-- Sire balance -->
<g id="sire-balance">
<text x="519" y="428.5" class="st">Sire Balance Analysis</text>
<rect x="329" y="436.5" width="120" height="41" rx="3" class="gbox"/>
<rect x="572" y="436.5" width="120" height="41" rx="3" class="gbox"/>
<text x="266.5" y="443" class="gh">Generation 5</text>
<text x="388" y="443" class="gh">Generation 6</text>
<text x="509.5" y="443" class="gh">Generation 7</text>
<text x="631" y="443" class="gh">Generation 8</text>
<text x="752.5" y="443" class="gh">Generation 9</text>
<text x="212" y="452.3" class="rn">MR. PROSPECTOR</text><text x="324.5" y="452.3" class="rb">3 - 2s/1d</text>
<text x="212" y="462.6" class="rn">SECRETARIAT</text><text x="324.5" y="462.6" class="rv">2 - 0s/2d</text>
<text x="333.5" y="452.3" class="rn">RAISE A NATIVE</text><text x="446" y="452.3" class="rv">4 - 4s/0d</text>
<text x="333.5" y="462.6" class="rn">MR. PROSPECTOR</text><text x="446" y="462.6" class="rb">3 - 2s/1d</text>
<text x="333.5" y="473" class="rn">SECRETARIAT</text><text x="446" y="473" class="rv">3 - 0s/3d</text>
<text x="455" y="452.3" class="rn">NASRULLAH</text><text x="567.5" y="452.3" class="rv">6 - 6s/0d</text>
<text x="455" y="462.6" class="rn">BOLD RULER</text><text x="567.5" y="462.6" class="rv">6 - 6s/0d</text>
<text x="455" y="473" class="rn">RAISE A NATIVE</text><text x="567.5" y="473" class="rv">5 - 4s/1d</text>
<text x="576.5" y="452.3" class="rn">NASRULLAH</text><text x="689" y="452.3" class="rv">13 - 11s/2d</text>
<text x="576.5" y="462.6" class="rn">NEARCO</text><text x="689" y="462.6" class="rv">10 - 10s/0d</text>
<text x="576.5" y="473" class="rn">PRINCEQUILLO</text><text x="689" y="473" class="rb">8 - 1s/7d</text>
<text x="698" y="452.3" class="rn">NEARCO</text><text x="810.5" y="452.3" class="rv">20 - 20s/0d</text>
<text x="698" y="462.6" class="rn">BLENHEIM</text><text x="810.5" y="462.6" class="rb">14 - 7s/7d</text>
<text x="698" y="473" class="rn">NASRULLAH</text><text x="810.5" y="473" class="rv">14 - 12s/2d</text>
</g>

<!-- Mare balance -->
<g id="mare-balance">
<text x="519" y="499" class="st">Mare Balance Analysis</text>
<rect x="329" y="507.5" width="120" height="41" rx="3" class="gbox"/>
<rect x="572" y="507.5" width="120" height="41" rx="3" class="gbox"/>
<text x="266.5" y="514" class="gh">Generation 5</text>
<text x="388" y="514" class="gh">Generation 6</text>
<text x="509.5" y="514" class="gh">Generation 7</text>
<text x="631" y="514" class="gh">Generation 8</text>
<text x="752.5" y="514" class="gh">Generation 9</text>
<text x="576.5" y="523" class="rn">SOMETHINGROYAL</text><text x="689" y="523" class="rv">4 - 4s/0d</text>
<text x="576.5" y="533.3" class="rn">ALMAHMOUD</text><text x="689" y="533.3" class="rv">3 - 0s/3d</text>
<text x="576.5" y="543.5" class="rn">TWO LEA</text><text x="689" y="543.5" class="rv">2 - 2s/0d</text>
<text x="698" y="523" class="rn">MUMTAZ BEGUM</text><text x="810.5" y="523" class="rv">14 - 13s/1d</text>
<text x="698" y="533.3" class="rn">MUMTAZ MAHAL</text><text x="810.5" y="533.3" class="rv">7 - 0s/7d</text>
<text x="698" y="543.5" class="rn">PLUCKY LIEGE</text><text x="810.5" y="543.5" class="rv">7 - 7s/0d</text>
</g>

<text x="420.5" y="572.5" class="foot">Copyright © 2025 Thoroughbreds 360 Pty Ltd. All rights reserved.</text>
<text x="822" y="572.5" class="date">15/Dec/2025</text>
</svg>
